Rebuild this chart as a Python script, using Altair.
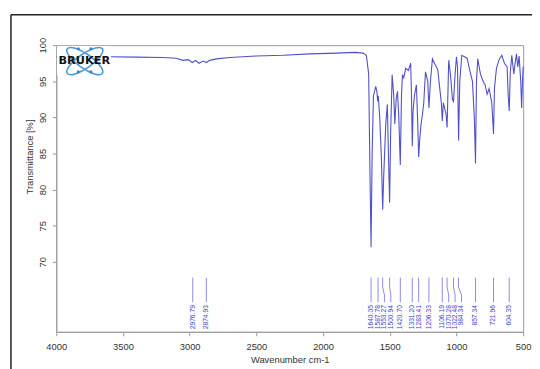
import altair as alt
import pandas as pd

# ---- spectrum (wavenumber cm-1, transmittance %) ----
wavenumber = [4000, 3800, 3600, 3400, 3200, 3100, 3050, 3010, 2980, 2955, 2930, 2900, 2875, 2850,
              2800, 2700, 2500, 2300, 2100, 1900, 1760, 1700, 1675, 1658, 1648, 1640, 1632, 1622,
              1605, 1596, 1590, 1586, 1575, 1562, 1553, 1545, 1530, 1518, 1510, 1501, 1493, 1482,
              1470, 1462, 1452, 1442, 1432, 1421, 1412, 1405, 1395, 1380, 1360, 1343, 1337, 1331,
              1325, 1315, 1300, 1290, 1283, 1275, 1265, 1255, 1245, 1232, 1215, 1206, 1195, 1180,
              1165, 1140, 1122, 1113, 1106, 1098, 1085, 1078, 1070, 1058, 1045, 1030, 1022, 1010,
              1000, 992, 984, 975, 960, 940, 920, 900, 880, 866, 857, 850, 840, 820, 800, 785,
              770, 755, 745, 735, 722, 715, 700, 680, 660, 640, 620, 612, 604, 597, 585, 570,
              560, 550, 540, 530, 518, 511, 505, 500]
transmittance = [98.4, 98.4, 98.4, 98.35, 98.3, 98.2, 97.9, 98.0, 97.6, 97.9, 97.5, 97.8, 97.6, 97.9,
                 98.1, 98.3, 98.5, 98.6, 98.8, 98.9, 99.0, 98.9, 98.6, 96.0, 82.0, 72.0, 85.0, 93.0,
                 94.3, 93.5, 92.2, 93.0, 90.0, 84.0, 77.2, 82.0, 89.0, 91.8, 85.0, 78.2, 88.0, 95.9,
                 93.0, 89.1, 92.5, 93.6, 90.0, 83.4, 93.0, 95.9, 95.5, 96.8, 96.5, 97.5, 93.0, 86.0,
                 90.9, 93.0, 94.5, 89.0, 84.5, 87.0, 89.1, 90.4, 92.0, 96.3, 95.0, 91.3, 95.0, 98.1,
                 97.5, 96.6, 93.5, 92.0, 89.5, 92.0, 91.0, 90.5, 88.6, 97.9, 96.0, 92.5, 92.2, 96.0,
                 98.4, 97.0, 86.8, 95.0, 98.6, 98.4, 98.2, 96.5, 95.0, 90.0, 83.6, 95.0, 98.1, 96.0,
                 95.0, 94.5, 93.2, 94.0, 93.0, 92.0, 87.7, 94.0, 96.8, 98.0, 98.6, 97.5, 97.0, 93.0,
                 90.9, 96.0, 98.6, 96.0, 97.5, 98.8, 97.0, 98.5, 95.0, 91.3, 95.0, 97.0]

# ---- peak picks ----
peaks = [2976.79, 2874.93, 1640.05, 1587.78, 1553.27, 1500.94, 1420.70, 1331.20, 1283.41,
         1206.33, 1106.19, 1070.28, 1022.48, 984.34, 857.34, 721.96, 604.35]
peak_labels = ["2976.79", "2874.93", "1640.05", "1587.78", "1553.27", "1500.94", "1420.70",
               "1331.20", "1283.41", "1206.33", "1106.19", "1070.28", "1022.48", "984.34",
               "857.34", "721.96", "604.35"]

x_ticks = [4000, 3500, 3000, 2500, 2000, 1500, 1000, 500]
y_ticks = [70, 75, 80, 85, 90, 95, 100]

X_DOMAIN = [500, 4000]
Y_DOMAIN = [60.3, 100]

spec = pd.DataFrame({"w": wavenumber, "t": transmittance})

# label positions spread so that rotated labels don't overlap
gap = 48.0
label_pos = []
for p in peaks:
    if label_pos and label_pos[-1] - p < gap:
        label_pos.append(label_pos[-1] - gap)
    else:
        label_pos.append(p)

T_TOP, T_K1, T_K2, T_BOT, T_LAB = 67.8, 66.5, 65.4, 64.4, 64.0
seg_rows = []
for p, lp in zip(peaks, label_pos):
    for i, (xx, tt) in enumerate([(p, T_TOP), (p, T_K1), (lp, T_K2), (lp, T_BOT)]):
        seg_rows.append({"peak": p, "order": i, "w": xx, "t": tt})
segs = pd.DataFrame(seg_rows)
labs = pd.DataFrame({"w": label_pos, "t": [T_LAB] * len(peaks), "lab": peak_labels})

xs = alt.Scale(domain=X_DOMAIN, reverse=True, nice=False, zero=False)
ys = alt.Scale(domain=Y_DOMAIN, nice=False, zero=False)

FONT = "Liberation Sans"

base_x = alt.X("w:Q", scale=xs,
               axis=alt.Axis(values=x_ticks, format="d", title="Wavenumber cm-1",
                             grid=False, domainColor="#9a9a9a", tickColor="#9a9a9a",
                             tickSize=4, labelFlush=False, labelFont=FONT, labelFontSize=9.5,
                             labelColor="#333333", labelPadding=6, titleFont=FONT,
                             titleFontSize=9.5, titleFontWeight="normal", titleColor="#333333",
                             titlePadding=4))
base_y = alt.Y("t:Q", scale=ys,
               axis=alt.Axis(values=y_ticks, format="d", title="Transmittance [%]",
                             grid=False, domainColor="#9a9a9a", tickColor="#9a9a9a",
                             tickSize=4, labelAngle=270, labelAlign="center",
                             labelBaseline="bottom", labelPadding=5, labelFlush=False,
                             labelFont=FONT, labelFontSize=9.5, labelColor="#333333",
                             titleFont=FONT, titleFontSize=9.5, titleFontWeight="normal",
                             titleColor="#333333", titleAngle=270, titleAlign="center",
                             titleBaseline="middle", titleX=-27, titleY=113))

line = alt.Chart(spec).mark_line(color="#5050c8", strokeWidth=1.1, interpolate="linear").encode(
    x=base_x, y=base_y, order="w:Q")

peak_lines = alt.Chart(segs).mark_line(color="#8c8cdc", strokeWidth=1).encode(
    x=alt.X("w:Q", scale=xs), y=alt.Y("t:Q", scale=ys),
    detail="peak:N", order="order:Q")

peak_text = alt.Chart(labs).mark_text(
    angle=270, align="right", baseline="middle", font=FONT, fontSize=6.8, color="#4646cc"
).encode(x=alt.X("w:Q", scale=xs), y=alt.Y("t:Q", scale=ys), text="lab:N")

# Bruker logo (placed in data coordinates)
logo_bg = pd.DataFrame({"w": [3995], "w2": [3590], "t": [99.9], "t2": [95.8]})
logo_bg_mark = alt.Chart(logo_bg).mark_rect(color="white").encode(
    x=alt.X("w:Q", scale=xs), x2="w2:Q", y=alt.Y("t:Q", scale=ys), y2="t2:Q")

ell = pd.DataFrame({"w": [3786, 3786], "t": [97.8, 97.8], "a": [35, 325]})
ellipse_path = "M -1 0 A 1 0.33 0 1 1 1 0 A 1 0.33 0 1 1 -1 0 Z"
logo_ell = alt.Chart(ell).mark_point(shape=ellipse_path, filled=False, color="#4a9ad8",
                                     strokeWidth=1.6, size=1900, opacity=1).encode(
    x=alt.X("w:Q", scale=xs), y=alt.Y("t:Q", scale=ys), angle=alt.Angle("a:Q", scale=None))
dots = pd.DataFrame({"w": [3835, 3740, 3835, 3740], "t": [99.5, 99.5, 96.3, 96.3]})
logo_dots = alt.Chart(dots).mark_circle(color="#3a86c8", size=10, opacity=1).encode(
    x=alt.X("w:Q", scale=xs), y=alt.Y("t:Q", scale=ys))
logo_txt = alt.Chart(pd.DataFrame({"w": [3790], "t": [97.8], "s": ["BRUKER"]})).mark_text(
    font="DejaVu Sans", fontWeight="bold", fontSize=11.5, color="#111111",
    align="center", baseline="middle").encode(
    x=alt.X("w:Q", scale=xs), y=alt.Y("t:Q", scale=ys), text="s:N")

# outer document frame (left and top edges; right/bottom run off the page)
frame_l = alt.Chart(pd.DataFrame({"k": [0]})).mark_rule(color="#222222", strokeWidth=1.5).encode(
    x=alt.value(-46), y=alt.value(-31), y2=alt.value(400))
frame_t = alt.Chart(pd.DataFrame({"k": [0]})).mark_rule(color="#222222", strokeWidth=1.5).encode(
    x=alt.value(-46), x2=alt.value(600), y=alt.value(-31))

chart = alt.layer(line, logo_bg_mark, logo_ell, logo_dots, logo_txt, peak_lines, peak_text,
                  frame_l, frame_t).properties(
    width=474, height=291,
    autosize=alt.AutoSizeParams(type="none"),
    padding={"left": 49, "top": 35, "right": 9, "bottom": 35},
    background="white",
).configure_view(stroke="#9a9a9a", strokeWidth=1)

chart.save("out.html", embed_options={"renderer": "svg", "actions": False})
